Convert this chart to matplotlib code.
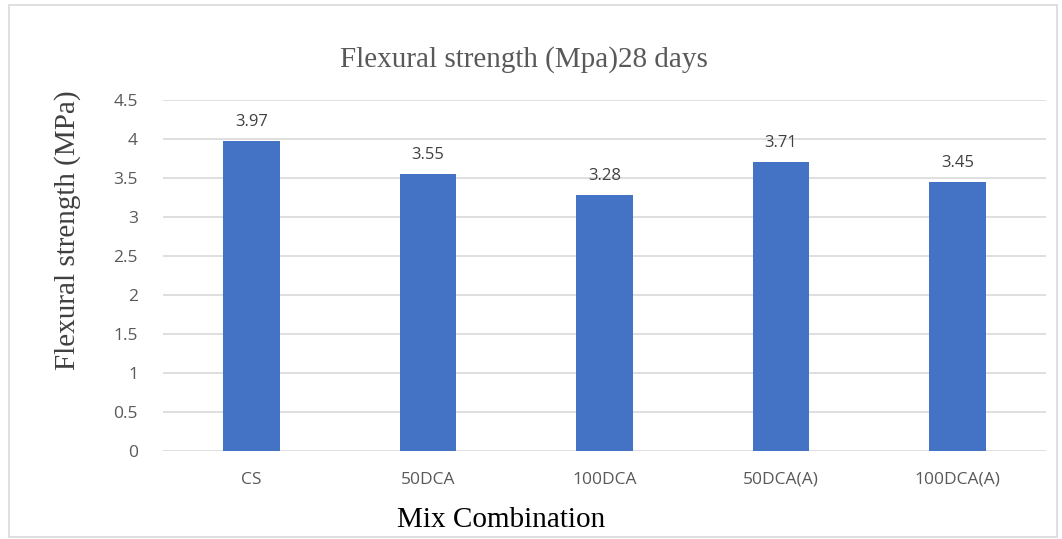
import matplotlib
matplotlib.use("Agg")
import matplotlib.pyplot as plt
from matplotlib.patches import Rectangle

categories = ["CS", "50DCA", "100DCA", "50DCA(A)", "100DCA(A)"]
values = [3.97, 3.55, 3.28, 3.71, 3.45]
yticks = [0, 0.5, 1, 1.5, 2, 2.5, 3, 3.5, 4, 4.5]
ytick_labels = ["0", "0.5", "1", "1.5", "2", "2.5", "3", "3.5", "4", "4.5"]

W, H = 1062, 539
fig = plt.figure(figsize=(W / 100, H / 100), dpi=100)
fig.patch.set_facecolor("white")

# outer chart border
fig.add_artist(Rectangle((9 / W, 2 / H), (1057 - 9) / W, (534 - 2) / H,
                         transform=fig.transFigure, fill=False,
                         edgecolor="#d9d9d9", linewidth=1.2))

left, right = 163, 1046
top, bottom = 100, 451
ax = fig.add_axes([left / W, 1 - bottom / H, (right - left) / W, (bottom - top) / H])

x = range(len(categories))
bars = ax.bar(x, values, width=0.32, color="#4472c4", zorder=3)
ax.set_xlim(-0.5, len(categories) - 0.5)
ax.set_ylim(0, 4.5)
ax.set_yticks(yticks)
ax.set_yticklabels(ytick_labels)
ax.set_xticks(list(x))
ax.set_xticklabels(categories)

ax.grid(axis="y", color="#d9d9d9", linewidth=1.2, zorder=0)
for s in ax.spines.values():
    s.set_visible(False)
ax.tick_params(axis="both", length=0, labelsize=12.5, colors="#595959")
ax.tick_params(axis="y", pad=18)
ax.tick_params(axis="x", pad=15)
for lab in ax.get_xticklabels() + ax.get_yticklabels():
    lab.set_fontfamily("Open Sans")

for b, v in zip(bars, values):
    ax.annotate(f"{v:.2f}", (b.get_x() + b.get_width() / 2, v),
                xytext=(0, 8), textcoords="offset points",
                ha="center", va="bottom", fontsize=12, color="#404040",
                fontfamily="Open Sans")

fig.text(524 / W, 1 - 60 / H, "Flexural strength (Mpa)28 days",
         ha="center", va="center", fontsize=21, color="#595959",
         fontfamily="Liberation Serif")
fig.text(68 / W, 1 - 230 / H, "Flexural strength (MPa)", rotation=90,
         ha="center", va="center", fontsize=21, color="#404040",
         fontfamily="Liberation Serif")
fig.text(501 / W, 1 - 520 / H, "Mix Combination",
         ha="center", va="center", fontsize=21, color="#000000",
         fontfamily="Liberation Serif")

fig.savefig("out.png", dpi=100, facecolor="white")
